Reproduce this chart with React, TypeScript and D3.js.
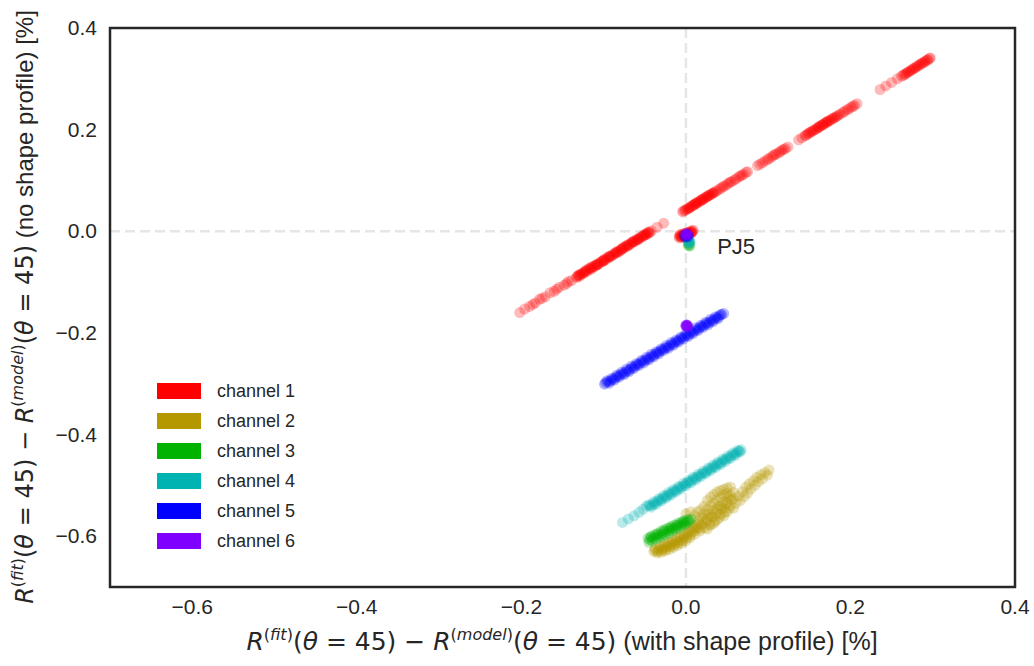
import React from "react";
import * as d3 from "d3";

type Pt = [number, number];

const channelNames = ["channel 1", "channel 2", "channel 3", "channel 4", "channel 5", "channel 6"];
const channelColors = ["#ff0000", "#b59800", "#00b300", "#00b3b3", "#0000ff", "#8000ff"];
const xTicks = [-0.6, -0.4, -0.2, 0.0, 0.2, 0.4];
const yTicks = [-0.6, -0.4, -0.2, 0.0, 0.2, 0.4];
const annotation = { label: "PJ5", x: 0.038, y: -0.03 };

const channel1: Pt[] = [
  [-0.202,-0.160],[-0.196,-0.153],[-0.190,-0.148],[-0.183,-0.141],[-0.178,-0.134],[-0.171,-0.129],[-0.165,-0.121],[-0.160,-0.118],[-0.154,-0.110],[-0.148,-0.106],[-0.143,-0.099],[-0.139,-0.097],
  [-0.186,-0.144],[-0.175,-0.132],[-0.157,-0.114],[-0.145,-0.103],
  [-0.133,-0.091],[-0.131,-0.087],[-0.129,-0.088],[-0.127,-0.083],[-0.125,-0.084],[-0.122,-0.078],[-0.120,-0.079],[-0.118,-0.074],[-0.116,-0.075],[-0.113,-0.069],[-0.111,-0.070],[-0.109,-0.066],[-0.106,-0.064],[-0.104,-0.061],[-0.101,-0.059],[-0.099,-0.055],[-0.097,-0.056],[-0.094,-0.050],[-0.092,-0.051],[-0.089,-0.046],[-0.087,-0.045],[-0.084,-0.040],[-0.082,-0.041],[-0.079,-0.036],[-0.077,-0.035],[-0.075,-0.031],[-0.072,-0.030],[-0.070,-0.026],[-0.067,-0.025],[-0.065,-0.021],[-0.062,-0.020],[-0.060,-0.016],[-0.058,-0.016],[-0.055,-0.011],[-0.053,-0.011],[-0.050,-0.006],[-0.048,-0.006],[-0.046,-0.002],[-0.044,-0.003],[-0.042,0.001],
  [-0.132,-0.089],[-0.128,-0.085],[-0.124,-0.081],[-0.121,-0.076],[-0.117,-0.072],[-0.114,-0.071],[-0.110,-0.067],[-0.107,-0.065],[-0.103,-0.060],[-0.100,-0.057],[-0.096,-0.053],[-0.093,-0.049],[-0.090,-0.048],[-0.086,-0.043],[-0.083,-0.041],[-0.080,-0.038],[-0.076,-0.033],[-0.073,-0.029],[-0.069,-0.027],[-0.066,-0.022],[-0.063,-0.019],[-0.059,-0.017],[-0.056,-0.013],[-0.052,-0.009],[-0.049,-0.007],[-0.045,-0.002],
  [-0.130,-0.086],[-0.123,-0.080],[-0.115,-0.073],[-0.108,-0.066],[-0.100,-0.058],[-0.093,-0.050],[-0.085,-0.042],[-0.078,-0.034],[-0.071,-0.028],[-0.064,-0.021],[-0.057,-0.014],[-0.051,-0.008],[-0.047,-0.004],
  [-0.035,0.008],[-0.027,0.016],
  [-0.004,0.038],[-0.001,0.041],[0.002,0.044],[0.004,0.046],[0.006,0.049],[0.009,0.051],[0.011,0.053],[0.013,0.056],[0.015,0.057],[0.018,0.061],[0.020,0.062],[0.022,0.065],[0.025,0.067],[0.027,0.070],[0.029,0.071],[0.032,0.074],[0.034,0.076],
  [-0.003,0.040],[0.000,0.043],[0.003,0.045],[0.005,0.047],[0.008,0.050],[0.010,0.053],[0.012,0.054],[0.014,0.057],[0.017,0.059],[0.019,0.062],[0.021,0.063],[0.024,0.067],[0.026,0.068],[0.028,0.071],[0.031,0.073],[0.033,0.076],
  [0.038,0.080],[0.043,0.085],[0.047,0.089],[0.052,0.095],[0.056,0.098],[0.061,0.103],[0.066,0.109],[0.070,0.112],[0.075,0.117],
  [0.036,0.078],[0.041,0.083],[0.045,0.088],[0.050,0.092],[0.054,0.097],[0.059,0.101],[0.064,0.107],[0.068,0.110],[0.073,0.116],
  [0.087,0.129],[0.090,0.132],[0.096,0.138],[0.101,0.143],[0.106,0.149],[0.110,0.152],[0.115,0.157],[0.119,0.161],[0.124,0.166],
  [0.093,0.135],[0.099,0.141],[0.104,0.146],[0.108,0.151],[0.113,0.155],[0.117,0.160],[0.121,0.163],
  [0.137,0.180],[0.141,0.184],[0.145,0.188],[0.148,0.191],[0.151,0.195],[0.154,0.197],[0.157,0.200],[0.160,0.204],[0.162,0.205],[0.165,0.209],[0.167,0.210],[0.170,0.214],[0.172,0.216],[0.175,0.218],[0.178,0.222],[0.182,0.225],[0.186,0.229],[0.191,0.234],[0.196,0.239],[0.201,0.244],[0.205,0.248],[0.208,0.251],
  [0.146,0.189],[0.149,0.193],[0.152,0.195],[0.155,0.199],[0.158,0.201],[0.161,0.204],[0.163,0.207],[0.166,0.209],[0.168,0.212],[0.171,0.214],[0.173,0.217],[0.176,0.219],[0.179,0.222],[0.181,0.224],[0.184,0.227],[0.188,0.231],[0.193,0.236],[0.198,0.241],[0.203,0.246],
  [0.236,0.279],[0.243,0.286],[0.250,0.293],[0.257,0.300],[0.262,0.305],[0.266,0.309],[0.269,0.312],[0.272,0.315],[0.275,0.318],[0.278,0.321],[0.281,0.325],[0.284,0.327],[0.287,0.331],[0.290,0.333],[0.293,0.337],[0.297,0.341],
  [0.264,0.307],[0.267,0.310],[0.270,0.313],[0.273,0.316],[0.276,0.320],[0.279,0.322],[0.282,0.325],[0.285,0.329],[0.288,0.331],[0.291,0.335],[0.294,0.337],[0.296,0.340],
  [-0.008,-0.010],[-0.007,-0.006],[-0.006,-0.011],[-0.005,-0.007],[-0.004,-0.010],[-0.003,-0.005],[-0.002,-0.009],[-0.001,-0.004],[0.000,-0.008],[0.001,-0.003],[0.002,-0.006],[0.003,-0.002],[0.004,-0.005],[0.005,-0.001],[0.006,-0.003],[0.007,0.001],[0.008,-0.001],[-0.008,-0.013],[0.000,-0.012],
  [-0.007,-0.009],[-0.005,-0.012],[-0.003,-0.008],[-0.001,-0.010],[0.001,-0.006],[0.003,-0.007],[0.005,-0.004],[0.007,-0.002],[0.009,0.002],
];

const channel2: Pt[] = [
  [-0.039,-0.630],[-0.037,-0.624],[-0.035,-0.633],[-0.033,-0.627],[-0.031,-0.620],[-0.030,-0.632],[-0.028,-0.625],[-0.026,-0.616],[-0.025,-0.629],[-0.023,-0.621],[-0.021,-0.612],[-0.020,-0.626],[-0.018,-0.617],[-0.016,-0.608],[-0.015,-0.622],[-0.013,-0.613],[-0.011,-0.603],[-0.010,-0.618],[-0.008,-0.609],[-0.006,-0.598],[-0.005,-0.614],[-0.003,-0.604],[-0.001,-0.593],[0.000,-0.609],[0.002,-0.598],[0.004,-0.587],[0.005,-0.603],[0.007,-0.592],[0.009,-0.580],[0.011,-0.596],[0.013,-0.585],[0.015,-0.570],[0.017,-0.590],[0.019,-0.578],[0.021,-0.565],
  [-0.038,-0.627],[-0.034,-0.630],[-0.032,-0.623],[-0.029,-0.628],[-0.027,-0.620],[-0.024,-0.625],[-0.022,-0.617],[-0.019,-0.621],[-0.017,-0.612],[-0.014,-0.617],[-0.012,-0.608],[-0.009,-0.613],[-0.007,-0.603],[-0.004,-0.609],[-0.002,-0.599],[0.001,-0.604],[0.003,-0.593],[0.006,-0.598],[0.008,-0.586],[0.010,-0.590],[0.012,-0.579],[0.014,-0.583],[0.016,-0.575],
  [0.023,-0.583],[0.025,-0.570],[0.027,-0.558],[0.029,-0.577],[0.031,-0.562],[0.033,-0.549],[0.035,-0.571],[0.037,-0.555],[0.039,-0.541],[0.041,-0.563],[0.043,-0.546],[0.045,-0.532],[0.047,-0.553],[0.049,-0.537],[0.051,-0.524],[0.053,-0.545],[0.055,-0.528],[0.058,-0.514],
  [0.000,-0.556],[0.006,-0.552],[0.010,-0.560],[0.014,-0.552],
  [0.018,-0.548],[0.018,-0.562],[0.018,-0.585],[0.022,-0.541],[0.022,-0.556],[0.022,-0.575],
  [0.026,-0.530],[0.026,-0.548],[0.026,-0.566],[0.026,-0.586],[0.030,-0.523],[0.030,-0.540],[0.030,-0.556],[0.030,-0.578],
  [0.034,-0.518],[0.034,-0.535],[0.034,-0.561],[0.034,-0.575],[0.038,-0.513],[0.038,-0.528],[0.038,-0.547],[0.038,-0.568],
  [0.042,-0.510],[0.042,-0.524],[0.042,-0.540],[0.042,-0.557],[0.046,-0.508],[0.046,-0.519],[0.046,-0.545],[0.046,-0.560],
  [0.050,-0.505],[0.050,-0.516],[0.050,-0.533],[0.050,-0.552],[0.054,-0.503],[0.054,-0.521],[0.054,-0.540],[0.058,-0.526],[0.058,-0.545],
  [0.061,-0.535],[0.064,-0.521],[0.066,-0.530],[0.069,-0.512],[0.071,-0.522],[0.073,-0.503],[0.075,-0.515],[0.077,-0.497],[0.079,-0.507],[0.082,-0.491],[0.084,-0.500],[0.086,-0.484],[0.088,-0.493],[0.091,-0.479],[0.093,-0.487],[0.096,-0.475],[0.099,-0.480],[0.101,-0.470],
  [0.003,-0.024],
];

const channel3: Pt[] = [
  [-0.046,-0.604],[-0.045,-0.612],[-0.042,-0.600],[-0.041,-0.609],[-0.038,-0.597],[-0.037,-0.606],[-0.034,-0.594],[-0.033,-0.603],[-0.030,-0.590],[-0.029,-0.600],[-0.026,-0.587],[-0.025,-0.597],[-0.022,-0.584],[-0.021,-0.594],[-0.018,-0.581],[-0.017,-0.590],[-0.014,-0.578],[-0.013,-0.587],[-0.010,-0.575],[-0.009,-0.584],[-0.006,-0.572],[-0.005,-0.580],[-0.002,-0.569],[-0.001,-0.577],[0.002,-0.567],[0.003,-0.573],[0.006,-0.566],
  [-0.044,-0.607],[-0.040,-0.604],[-0.036,-0.601],[-0.032,-0.598],[-0.028,-0.595],[-0.024,-0.591],[-0.020,-0.588],[-0.016,-0.585],[-0.012,-0.582],[-0.008,-0.578],[-0.004,-0.575],[0.000,-0.572],[0.004,-0.569],[-0.043,-0.602],[-0.035,-0.596],[-0.027,-0.590],[-0.019,-0.584],[-0.011,-0.579],[-0.003,-0.572],
  [0.004,-0.027],[0.005,-0.029],[0.003,-0.028],
];

const channel4: Pt[] = [
  [-0.077,-0.573],[-0.070,-0.566],[-0.063,-0.560],[-0.057,-0.553],[-0.052,-0.547],[-0.048,-0.541],
  [-0.045,-0.538],[-0.042,-0.543],[-0.039,-0.532],[-0.036,-0.537],[-0.033,-0.526],[-0.030,-0.531],[-0.027,-0.520],[-0.024,-0.525],[-0.021,-0.514],[-0.018,-0.519],[-0.015,-0.508],[-0.012,-0.513],[-0.009,-0.502],[-0.006,-0.507],[-0.003,-0.496],[0.000,-0.501],[0.003,-0.490],[0.006,-0.495],[0.009,-0.484],[0.012,-0.489],[0.015,-0.478],[0.018,-0.483],[0.021,-0.472],[0.024,-0.477],[0.027,-0.466],[0.030,-0.471],[0.033,-0.460],[0.036,-0.465],[0.039,-0.454],[0.042,-0.459],[0.045,-0.448],[0.048,-0.453],[0.051,-0.442],[0.054,-0.447],[0.057,-0.436],[0.060,-0.441],[0.063,-0.431],[0.066,-0.434],[0.067,-0.430],
  [-0.0435,-0.540],[-0.0405,-0.538],[-0.0375,-0.535],[-0.0345,-0.531],[-0.0315,-0.529],[-0.0285,-0.526],[-0.0255,-0.522],[-0.0225,-0.520],[-0.0195,-0.517],[-0.0165,-0.513],[-0.0135,-0.511],[-0.0105,-0.508],[-0.0075,-0.504],[-0.0045,-0.502],[-0.0015,-0.499],[0.0015,-0.495],[0.0045,-0.493],[0.0075,-0.490],[0.0105,-0.486],[0.0135,-0.484],[0.0165,-0.481],[0.0195,-0.477],[0.0225,-0.475],[0.0255,-0.472],[0.0285,-0.468],[0.0315,-0.466],[0.0345,-0.463],[0.0375,-0.459],[0.0405,-0.457],[0.0435,-0.454],[0.0465,-0.450],[0.0495,-0.448],[0.0525,-0.445],[0.0555,-0.441],[0.0585,-0.439],[0.0615,-0.436],[0.0645,-0.433],
  [0.003,-0.018],[0.004,-0.022],[0.005,-0.020],[0.003,-0.024],[0.004,-0.019],[0.005,-0.023],
];

const channel5: Pt[] = [
  [-0.099,-0.301],[-0.096,-0.294],[-0.093,-0.299],[-0.090,-0.289],[-0.087,-0.293],[-0.084,-0.283],[-0.081,-0.287],[-0.078,-0.277],[-0.075,-0.282],[-0.072,-0.271],[-0.069,-0.276],[-0.066,-0.265],[-0.063,-0.270],[-0.060,-0.260],[-0.057,-0.264],[-0.054,-0.254],[-0.051,-0.259],[-0.048,-0.248],[-0.045,-0.253],[-0.042,-0.242],[-0.039,-0.247],[-0.036,-0.237],[-0.033,-0.241],[-0.030,-0.231],[-0.027,-0.235],[-0.024,-0.225],[-0.021,-0.230],[-0.018,-0.219],[-0.015,-0.224],[-0.012,-0.214],[-0.009,-0.218],[-0.006,-0.208],[-0.003,-0.212],[0.000,-0.202],[0.003,-0.207],[0.006,-0.196],[0.009,-0.201],[0.012,-0.190],[0.015,-0.195],[0.018,-0.185],[0.021,-0.189],[0.024,-0.179],[0.027,-0.184],[0.030,-0.173],[0.033,-0.178],[0.036,-0.168],[0.039,-0.172],[0.042,-0.164],[0.046,-0.162],
  [-0.0975,-0.298],[-0.0945,-0.296],[-0.0915,-0.294],[-0.0885,-0.291],[-0.0855,-0.288],[-0.0825,-0.285],[-0.0795,-0.282],[-0.0765,-0.280],[-0.0735,-0.277],[-0.0705,-0.274],[-0.0675,-0.271],[-0.0645,-0.268],[-0.0615,-0.265],[-0.0585,-0.262],[-0.0555,-0.259],[-0.0525,-0.256],[-0.0495,-0.254],[-0.0465,-0.251],[-0.0435,-0.248],[-0.0405,-0.245],[-0.0375,-0.242],[-0.0345,-0.239],[-0.0315,-0.236],[-0.0285,-0.233],[-0.0255,-0.230],[-0.0225,-0.228],[-0.0195,-0.225],[-0.0165,-0.222],[-0.0135,-0.219],[-0.0105,-0.216],[-0.0075,-0.213],[-0.0045,-0.210],[-0.0015,-0.207],[0.0015,-0.205],[0.0045,-0.202],[0.0075,-0.199],[0.0105,-0.196],[0.0135,-0.193],[0.0165,-0.190],[0.0195,-0.187],[0.0225,-0.184],[0.0255,-0.181],[0.0285,-0.179],[0.0315,-0.176],[0.0345,-0.173],[0.0375,-0.170],[0.0405,-0.167],[0.0435,-0.164],
  [-0.002,-0.008],[0.000,-0.010],[0.002,-0.007],[0.003,-0.011],[0.001,-0.006],[-0.001,-0.012],[0.002,-0.009],
];

const channel6: Pt[] = [
  [0.000,-0.185],[0.001,-0.187],[0.002,-0.186],[0.000,-0.187],[0.001,-0.185],[0.002,-0.188],[0.001,-0.186],[0.000,-0.186],[0.001,-0.184],[0.002,-0.185],
  [0.000,-0.006],[0.001,-0.007],[0.001,-0.005],[0.000,-0.008],[0.002,-0.006],[0.001,-0.006],[0.000,-0.005],[0.002,-0.008],
];

const series = [channel1, channel2, channel3, channel4, channel5, channel6];

const W = 1034, H = 666;
const left = 110, right = 1015, top = 28, bottom = 587;
const textColor = "#262626";
const sans = "'Liberation Sans', Arial, sans-serif";
const math = "'DejaVu Sans', sans-serif";

function fmt(v: number) {
  const s = Math.abs(v).toFixed(1);
  return v < -1e-9 ? "\u2212" + s : s;
}

function MathLabel({ tail, sup }: { tail: string; sup: number }) {
  const rise = Math.round(sup * 0.6);
  return (
    <>
      <tspan fontFamily={math} fontStyle="italic">R</tspan>
      <tspan fontFamily={math} fontSize={sup} dy={-rise}>(<tspan fontStyle="italic">fit</tspan>)</tspan>
      <tspan fontFamily={math} dy={rise}>(<tspan fontStyle="italic">θ</tspan> = 45) − </tspan>
      <tspan fontFamily={math} fontStyle="italic">R</tspan>
      <tspan fontFamily={math} fontSize={sup} dy={-rise}>(<tspan fontStyle="italic">model</tspan>)</tspan>
      <tspan fontFamily={math} dy={rise}>(<tspan fontStyle="italic">θ</tspan> = 45)</tspan>
      <tspan fontFamily={sans}>{tail}</tspan>
    </>
  );
}

export default function App() {
  const x = d3.scaleLinear().domain([-0.7, 0.4]).range([left, right]);
  const y = d3.scaleLinear().domain([-0.7, 0.4]).range([bottom, top]);
  return (
    <svg width={W} height={H} style={{ position: "absolute", left: 0, top: 0, background: "#fff" }}>
      <rect x={0} y={0} width={W} height={H} fill="#fff" />
      <line x1={x(0)} x2={x(0)} y1={top} y2={bottom} stroke="#e6e6e6" strokeWidth={2.5} strokeDasharray="10,5" />
      <line x1={left} x2={right} y1={y(0)} y2={y(0)} stroke="#e6e6e6" strokeWidth={2.5} strokeDasharray="10,5" />
      {series.map((pts, i) => (
        <g key={i} fill={channelColors[i]} fillOpacity={0.27}>
          {pts.map((p, j) => (
            <circle key={j} cx={x(p[0])} cy={y(p[1])} r={5.5} />
          ))}
        </g>
      ))}
      <rect x={left} y={top} width={right - left} height={bottom - top} fill="none" stroke={textColor} strokeWidth={2.5} />
      {xTicks.map((t) => (
        <text key={t} x={x(t)} y={614} textAnchor="middle" fontFamily={sans} fontSize={21} fill={textColor}>{fmt(t)}</text>
      ))}
      {yTicks.map((t) => (
        <text key={t} x={97} y={y(t) + 7} textAnchor="end" fontFamily={sans} fontSize={21} fill={textColor}>{fmt(t)}</text>
      ))}
      <text x={x(annotation.x)} y={y(annotation.y) + 7} fontFamily={sans} fontSize={22} fill={textColor}>{annotation.label}</text>
      <text x={562} y={650} textAnchor="middle" fontSize={25} fill={textColor}>
        <MathLabel tail=" (with shape profile) [%]" sup={16} />
      </text>
      <text transform="translate(33,307) rotate(-90)" textAnchor="middle" fontSize={24} fill={textColor}>
        <MathLabel tail=" (no shape profile) [%]" sup={16} />
      </text>
      {channelNames.map((name, i) => (
        <g key={name} transform={`translate(157,${383 + i * 30})`}>
          <rect x={0} y={0} width={44} height={16} fill={channelColors[i]} />
          <text x={60} y={14} fontFamily={sans} fontSize={18} fill={textColor}>{name}</text>
        </g>
      ))}
    </svg>
  );
}
